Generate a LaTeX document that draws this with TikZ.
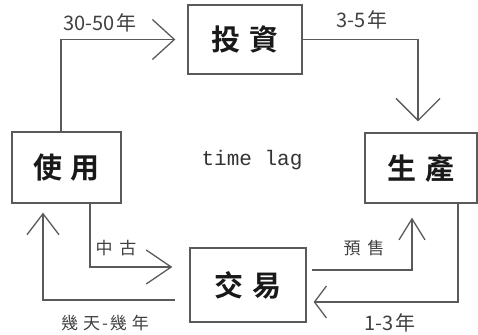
\documentclass[tikz,border=0pt]{standalone}
\usepackage{fontspec}
\usetikzlibrary{arrows.meta}
\newfontfamily\cjk{Noto Sans CJK TC}
\newfontfamily\cjkb{Noto Sans CJK TC}[BoldFont={* Bold}]
\newfontfamily\monof{Liberation Mono}
\definecolor{lc}{HTML}{5A5A5A}
\tikzset{
  box/.style={draw=lc, line width=1.3pt, inner sep=0pt, font=\cjkb\bfseries\fontsize{29}{32}\selectfont, text=black!90},
  conn/.style={draw=lc, line width=1.3pt, line join=miter},
  lbl/.style={font=\cjk\fontsize{20}{22}\selectfont, text=black!75, inner sep=0pt},
  slbl/.style={lbl, font=\cjk\fontsize{17}{19}\selectfont},
}
\begin{document}
\begin{tikzpicture}[x=1pt,y=1pt]
\useasboundingbox (0,0) rectangle (478,334);
\node[box, minimum width=114pt, minimum height=69pt] (inv) at (245,294.5) {投\hspace{9pt}資};
\node[box, minimum width=109pt, minimum height=71pt] (use) at (66.5,166.5) {使\hspace{9pt}用};
\node[box, minimum width=112pt, minimum height=70pt] (prod) at (421,166) {生\hspace{9pt}產};
\node[box, minimum width=116pt, minimum height=74pt] (trade) at (248,49) {交\hspace{9pt}易};
\node[font=\monof\fontsize{21}{24}\selectfont, text=black!80] (lag) at (252,174) {time lag};

\draw[conn, -{Straight Barb[length=22pt,width=40pt]}] ([xshift=-5.5pt]use.north) |- ([xshift=-12pt]inv.west);
\draw[conn, -{Straight Barb[length=22pt,width=44pt]}] (inv.east) -| ([xshift=-3pt,yshift=11pt]prod.north);
\draw[conn, -{Straight Barb[length=21pt,width=32pt]}] ([xshift=-14pt,yshift=-15pt]trade.west) -| ([xshift=-23.5pt,yshift=-9pt]use.south);
\draw[conn, -{Straight Barb[length=25pt,width=34pt]}] ([xshift=23.5pt]use.south) |- ([xshift=-17pt,yshift=18pt]trade.west);
\draw[conn, -{Straight Barb[length=21pt,width=26pt]}] ([xshift=5pt,yshift=15pt]trade.east) -| ([xshift=-9pt,yshift=-14pt]prod.south);
\draw[conn, -{Straight Barb[length=12pt,width=32pt]}] ([xshift=37pt]prod.south) |- ([xshift=7pt,yshift=-17pt]trade.east);

\node[lbl] (l1) at (100,311) {30-50\hspace{2pt}年};
\node[lbl] (l2) at (362,314) {3-5\hspace{2pt}年};
\node[slbl] (l3) at (116,86) {中\hspace{7pt}古};
\node[slbl] (l4) at (364,86) {預\hspace{7pt}售};
\node[slbl] (l5) at (105,11) {幾\hspace{5pt}天\hspace{2pt}-\hspace{2pt}幾\hspace{5pt}年};
\node[lbl] (l6) at (390,11) {1-3\hspace{2pt}年};
\end{tikzpicture}
\end{document}
